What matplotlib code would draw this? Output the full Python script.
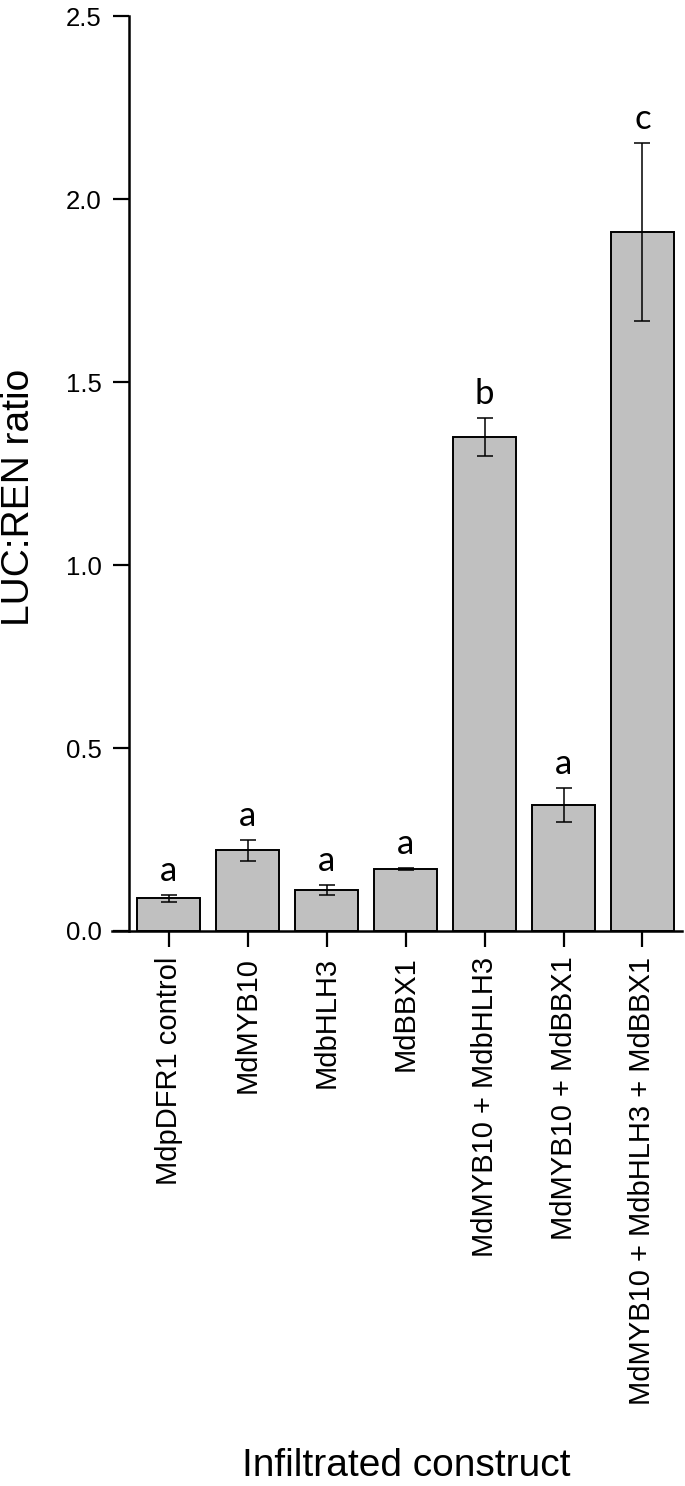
import matplotlib
matplotlib.use('Agg')
import matplotlib.pyplot as plt
import numpy as np

constructs = ['MdpDFR1 control', 'MdMYB10', 'MdbHLH3', 'MdBBX1',
              'MdMYB10 + MdbHLH3', 'MdMYB10 + MdBBX1',
              'MdMYB10 + MdbHLH3 + MdBBX1']
ratio = [0.089, 0.220, 0.113, 0.169, 1.350, 0.345, 1.910]
err = [0.010, 0.029, 0.014, 0.003, 0.052, 0.047, 0.243]
letters = ['a', 'a', 'a', 'a', 'b', 'a', 'c']

plt.rcParams['font.family'] = ['Liberation Sans', 'DejaVu Sans']

fig = plt.figure(figsize=(6.85, 14.86), dpi=100)
ax = fig.add_axes([0.1635, 0.3735, 0.832, 0.6155])

x = np.arange(len(constructs))
ax.bar(x, ratio, width=0.8, color='#c0c0c0', edgecolor='black', linewidth=1.4, zorder=2)
ax.errorbar(x, ratio, yerr=err, fmt='none', ecolor='black', elinewidth=1.1,
            capsize=6, capthick=1.1, zorder=3)

# significance letters
for xi, v, e, s in zip(x, ratio, err, letters):
    ax.annotate(s, (xi, v + e), xytext=(0, 10), textcoords='offset points',
                ha='center', va='baseline', fontsize=25, family=['Lato', 'DejaVu Sans'])

ax.set_xlim(-0.72, 6.5)
ax.set_ylim(0, 2.5)
ax.set_yticks([0.0, 0.5, 1.0, 1.5, 2.0, 2.5])
ax.set_yticklabels(['0.0', '0.5', '1.0', '1.5', '2.0', '2.5'])
ax.set_xticks(x)
ax.set_xticklabels(constructs, rotation=90)

ax.spines['top'].set_visible(False)
ax.spines['right'].set_visible(False)
ax.spines['left'].set_position(('data', -0.5))
ax.spines['left'].set_linewidth(1.8)
ax.spines['bottom'].set_linewidth(1.8)
ax.tick_params(axis='both', direction='out', length=11.5, width=1.6)
ax.tick_params(axis='y', labelsize=18.5, pad=8.5)
ax.tick_params(axis='x', labelsize=21, pad=7)

fig.text(19 / 685, 1 - 497 / 1486, 'LUC:REN ratio', rotation=90, ha='center', va='center', fontsize=28)
fig.text(406 / 685, 1 - 1476 / 1486, 'Infiltrated construct', ha='center', va='baseline', fontsize=28)

fig.savefig('out.png', dpi=100)
